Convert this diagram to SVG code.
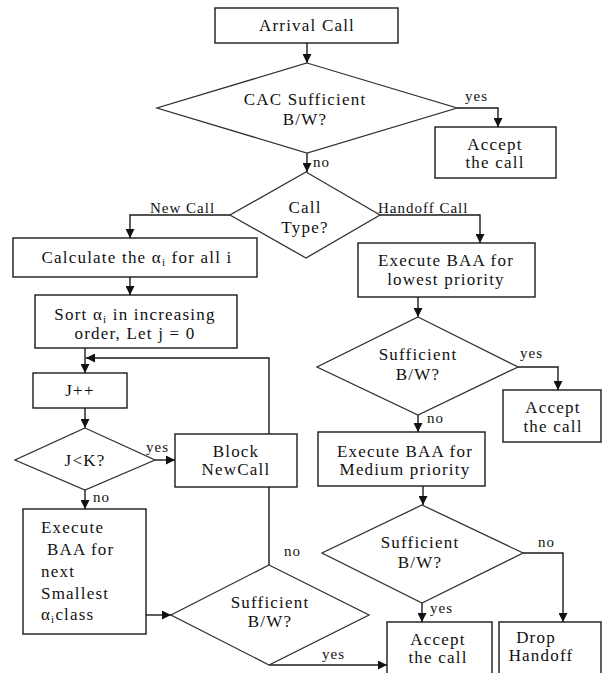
<svg xmlns="http://www.w3.org/2000/svg" width="603" height="673" viewBox="0 0 603 673">
<style>
.box{fill:#fff;stroke:#1a1a1a;stroke-width:1.4}
.dia{fill:#fff;stroke:#333;stroke-width:1.3}
.t{font-family:"Liberation Serif","Times New Roman",serif;font-size:17px;letter-spacing:1.2px;fill:#111;text-anchor:middle}
.tl{font-family:"Liberation Serif","Times New Roman",serif;font-size:17px;letter-spacing:1.2px;fill:#111}
.lb{font-family:"Liberation Serif","Times New Roman",serif;font-size:15px;letter-spacing:1px;fill:#111}
.c{fill:none;stroke:#1a1a1a;stroke-width:1.4}
.sub{font-size:11px}
</style>
<defs>
<marker id="ah" viewBox="0 0 10 10" markerWidth="9" markerHeight="9" refX="10" refY="5" orient="auto" markerUnits="userSpaceOnUse">
<path d="M0,0 L10,5 L0,10 z" fill="#111"/>
</marker>
</defs>
<rect width="603" height="673" fill="#fff"/>

<g id="connectors">
<path class="c" d="M307,43 V63" marker-end="url(#ah)"/>
<path class="c" d="M457,108 H498 V127" marker-end="url(#ah)"/>
<path class="c" d="M307,153 V172" marker-end="url(#ah)"/>
<path class="c" d="M230,215 H130 V238" marker-end="url(#ah)"/>
<path class="c" d="M380,215 H480 V243" marker-end="url(#ah)"/>
<path class="c" d="M130,277 V295" marker-end="url(#ah)"/>
<path class="c" d="M85,348 V373" marker-end="url(#ah)"/>
<path class="c" d="M269,565 V358 H86" marker-end="url(#ah)"/>
<path class="c" d="M85,408 V428" marker-end="url(#ah)"/>
<path class="c" d="M155,460 H175" marker-end="url(#ah)"/>
<path class="c" d="M85,490 V509" marker-end="url(#ah)"/>
<path class="c" d="M146,615 H171" marker-end="url(#ah)"/>
<path class="c" d="M269,665 H387" marker-end="url(#ah)"/>
<path class="c" d="M418,297 V317" marker-end="url(#ah)"/>
<path class="c" d="M518,367 H558 V390" marker-end="url(#ah)"/>
<path class="c" d="M418,415 V432" marker-end="url(#ah)"/>
<path class="c" d="M423,486 V505" marker-end="url(#ah)"/>
<path class="c" d="M523,553 H563 V622" marker-end="url(#ah)"/>
<path class="c" d="M422,603 V622" marker-end="url(#ah)"/>
<text class="lb" x="465" y="101">yes</text>
<text class="lb" x="313" y="167">no</text>
<text class="lb" x="150" y="213">New Call</text>
<text class="lb" x="378" y="213">Handoff Call</text>
<text class="lb" x="520" y="358">yes</text>
<text class="lb" x="427" y="423">no</text>
<text class="lb" x="146" y="452">yes</text>
<text class="lb" x="93" y="502">no</text>
<text class="lb" x="538" y="547">no</text>
<text class="lb" x="284" y="556">no</text>
<text class="lb" x="430" y="613">yes</text>
<text class="lb" x="322" y="659">yes</text>
</g>

<g id="arrival"><rect class="box" x="215" y="8" width="183" height="35"/><text class="t" x="307" y="31">Arrival Call</text></g>
<g id="cac"><polygon class="dia" points="307,63 457,108 307,153 157,108"/><text class="t" x="305" y="105">CAC Sufficient</text><text class="t" x="305" y="125">B/W?</text></g>
<g id="accept1"><rect class="box" x="435" y="127" width="121" height="51"/><text class="t" x="495" y="150">Accept</text><text class="t" x="495" y="168">the call</text></g>
<g id="calltype"><polygon class="dia" points="306,172 380,215 306,258 230,215"/><text class="t" x="305" y="213">Call</text><text class="t" x="305" y="233">Type?</text></g>
<g id="calc"><rect class="box" x="13" y="238" width="244" height="39"/><text class="t" x="137" y="263">Calculate the α<tspan class="sub" dy="3">i</tspan><tspan dy="-3"> for all i</tspan></text></g>
<g id="sort"><rect class="box" x="35" y="295" width="202" height="53"/><text class="t" x="135" y="320">Sort α<tspan class="sub" dy="3">i</tspan><tspan dy="-3"> in increasing</tspan></text><text class="t" x="135" y="339">order, Let j = 0</text></g>
<g id="jpp"><rect class="box" x="33" y="373" width="94" height="35"/><text class="t" x="80" y="396">J++</text></g>
<g id="jk"><polygon class="dia" points="85,428 155,460 85,490 15,460"/><text class="t" x="85" y="466">J&lt;K?</text></g>
<g id="block"><rect class="box" x="175" y="434" width="122" height="53"/><text class="t" x="236" y="457">Block</text><text class="t" x="236" y="475">NewCall</text></g>
<g id="execleft"><rect class="box" x="23" y="509" width="123" height="125"/>
<text class="tl" x="41" y="533">Execute</text>
<text class="tl" x="47" y="555">BAA for</text>
<text class="tl" x="41" y="577">next</text>
<text class="tl" x="41" y="599">Smallest</text>
<text class="tl" x="41" y="620">α<tspan class="sub" dy="3">i</tspan><tspan dy="-3">class</tspan></text>
</g>
<g id="suffleft"><polygon class="dia" points="269,565 369,615 269,665 171,615"/><text class="t" x="270" y="608">Sufficient</text><text class="t" x="270" y="627">B/W?</text></g>
<g id="execlow"><rect class="box" x="358" y="243" width="177" height="54"/><text class="t" x="446" y="266">Execute BAA for</text><text class="t" x="446" y="285">lowest priority</text></g>
<g id="suff2"><polygon class="dia" points="418,317 518,367 418,415 317,367"/><text class="t" x="418" y="360">Sufficient</text><text class="t" x="418" y="380">B/W?</text></g>
<g id="accept2"><rect class="box" x="503" y="390" width="98" height="52"/><text class="t" x="553" y="413">Accept</text><text class="t" x="553" y="432">the call</text></g>
<g id="execmed"><rect class="box" x="318" y="432" width="167" height="54"/><text class="t" x="405" y="457">Execute BAA for</text><text class="t" x="405" y="475">Medium priority</text></g>
<g id="suff3"><polygon class="dia" points="422,505 523,553 422,603 322,553"/><text class="t" x="420" y="548">Sufficient</text><text class="t" x="420" y="568">B/W?</text></g>
<g id="accept3"><rect class="box" x="387" y="622" width="105" height="60"/><text class="t" x="438" y="645">Accept</text><text class="t" x="438" y="663">the call</text></g>
<g id="drop"><rect class="box" x="499" y="622" width="102" height="60"/><text class="t" x="536" y="643">Drop</text><text class="t" x="541" y="661">Handoff</text></g>
</svg>
